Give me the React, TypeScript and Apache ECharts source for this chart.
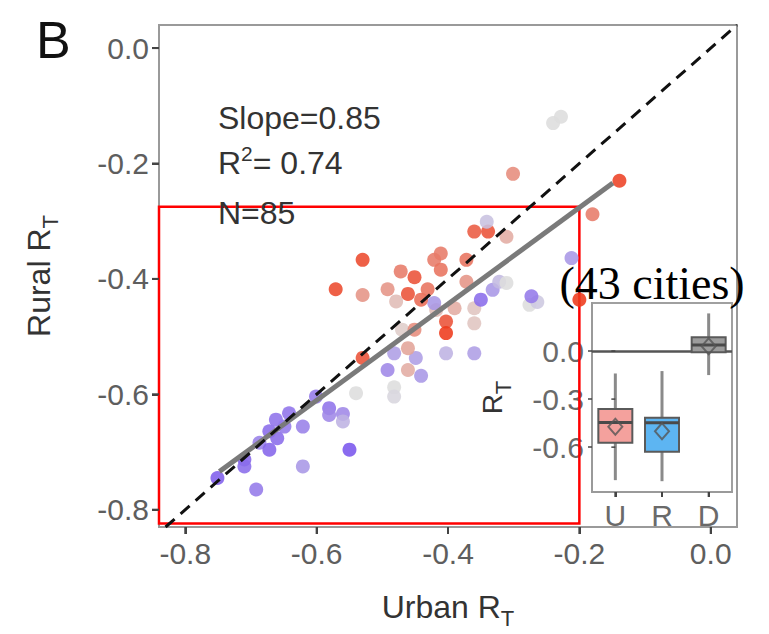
import React, { useEffect, useRef } from "react";
import * as echarts from "echarts";

// ---- main scatter data (Urban R_T, Rural R_T, colour score: -1 purple .. 0 grey .. +1 red)
const urbanRT = [
  -0.751, -0.71, -0.71, -0.692, -0.687, -0.672, -0.672, -0.66, -0.662, -0.649,
  -0.642, -0.621, -0.621, -0.601, -0.581, -0.581, -0.56, -0.56, -0.55, -0.54,
  -0.482, -0.482, -0.53, -0.492, -0.461, -0.441, -0.482, -0.449, -0.461, -0.47,
  -0.451, -0.403, -0.403, -0.403, -0.36, -0.36, -0.36, -0.39, -0.418, -0.421,
  -0.441, -0.479, -0.461, -0.431, -0.492, -0.451, -0.472, -0.53, -0.571, -0.53,
  -0.421, -0.411, -0.411, -0.372, -0.372, -0.36, -0.339, -0.311, -0.341, -0.35,
  -0.332, -0.322, -0.311, -0.276, -0.264, -0.273, -0.212, -0.2, -0.301, -0.139,
  -0.18, -0.24, -0.228,
];
const ruralRT = [
  -0.745, -0.713, -0.725, -0.765, -0.684, -0.696, -0.664, -0.676, -0.644, -0.656,
  -0.633, -0.656, -0.725, -0.604, -0.624, -0.636, -0.634, -0.647, -0.696, -0.598,
  -0.588, -0.604, -0.537, -0.558, -0.558, -0.568, -0.529, -0.537, -0.52, -0.488,
  -0.488, -0.474, -0.494, -0.529, -0.529, -0.477, -0.451, -0.451, -0.454, -0.442,
  -0.436, -0.439, -0.426, -0.418, -0.418, -0.397, -0.387, -0.428, -0.418, -0.367,
  -0.367, -0.356, -0.384, -0.367, -0.405, -0.318, -0.318, -0.327, -0.301, -0.436,
  -0.419, -0.405, -0.407, -0.445, -0.44, -0.43, -0.364, -0.436, -0.218, -0.23,
  -0.288, -0.13, -0.119,
];
const colorScore = [
  -0.9, -0.85, -0.8, -0.7, -0.65, -0.85, -0.8, -0.8, -0.75, -0.7,
  -0.75, -0.65, -0.5, -0.7, -0.75, -0.6, -0.6, -0.3, -0.95, 0,
  0, -0.05, 0.85, -0.6, 0.3, -0.5, -0.45, -0.45, 0.35, 0.1,
  0.5, 0.85, 1.0, -0.3, -0.45, 0.15, 0.15, 0.3, 0.2, -0.5,
  0.7, 0.2, 0.85, 0.65, 0.45, 0.85, 0.6, 0.45, 0.9, 0.9,
  0.6, 0.6, 0.65, 0.65, 0.45, 0.8, 0.85, 0.3, -0.2, -0.8,
  -0.5, -0.25, 0, 0, -0.15, -0.7, -0.5, 1.0, 0.5, 0.95,
  0.6, 0, 0,
];

// fitted regression line end points and 1:1 reference line
const fitX = [-0.748, -0.149];
const fitY = [-0.734, -0.234];
const oneToOne = [-0.83, 0.04];

// axis ranges and ticks
const xRange = [-0.84, 0.04];
const yRange = [-0.83, 0.04];
const xTicks = [-0.8, -0.6, -0.4, -0.2, 0.0];
const yTicks = [-0.8, -0.6, -0.4, -0.2, 0.0];

// inset box plot (min, Q1, median, Q3, max) and means
const insetCats = ["U", "R", "D"];
const insetBox = [
  [-0.806, -0.573, -0.446, -0.3625, -0.14],
  [-0.8125, -0.629, -0.448, -0.417, -0.125],
  [-0.15, -0.008, 0.0375, 0.0855, 0.235],
];
const insetMean = [-0.473, -0.5, 0.03];
const insetFill = ["#F4A19D", "#5DB5F2", "#9C9C9C"];
const insetRange = [-0.88, 0.3];
const insetTicks = [-0.6, -0.3, 0.0];

// annotation texts
const statLines = ["Slope=0.85", "R{sup|2}= 0.74", "N=85"];
const panelLetter = "B";
const citiesNote = "(43 cities)";

const SANS = "'Liberation Sans', Arial, Helvetica, sans-serif";
const SERIF = "'Liberation Serif', 'Times New Roman', serif";

export default function App() {
  const ref = useRef<HTMLDivElement>(null);
  useEffect(() => {
    document.body.style.margin = "0";
    const chart = echarts.init(ref.current!, undefined, { renderer: "svg" });
    const fmt = (v: number) => v.toFixed(1);
    const subRich = {
      sub: { fontSize: 22, padding: [22, 0, 0, 0], fontFamily: SANS, color: "#333" },
    };
    const tickLabel = { fontSize: 30, color: "#5e5e5e", fontFamily: SANS };
    const frameLine = { show: true, onZero: false, lineStyle: { color: "#9a9a9a", width: 2 } };
    const mainTick = (vals: number[], len: number) => ({
      show: true, inside: false, length: len, customValues: vals, lineStyle: { color: "#444", width: 2 },
    });
    const textGraphics: any[] = [
      {
        type: "text", left: 36, top: 14, z: 10,
        style: { text: panelLetter, fontSize: 52, fontFamily: SANS, fill: "#111" },
      },
      {
        type: "text", x: 218, y: 118, z: 10,
        style: { text: statLines[0], fontSize: 32, fontFamily: SANS, fill: "#333", verticalAlign: "middle" },
      },
      {
        type: "text", x: 218, y: 163, z: 10,
        style: {
          text: statLines[1], fontSize: 32, fontFamily: SANS, fill: "#333", verticalAlign: "middle",
          rich: {
            sup: { fontSize: 21, fontFamily: SANS, fill: "#333", padding: [0, 0, 20, 0] },
          },
        },
      },
      {
        type: "text", x: 218, y: 213, z: 10,
        style: { text: statLines[2], fontSize: 32, fontFamily: SANS, fill: "#333", verticalAlign: "middle" },
      },
      {
        type: "text", x: 652, y: 283, z: 20,
        style: { text: citiesNote, fontSize: 46, fontFamily: SERIF, fill: "#000", align: "center", verticalAlign: "middle" },
      },
    ];
    const option: any = {
      animation: false,
      backgroundColor: "#fff",
      visualMap: [
        {
          type: "continuous",
          show: false,
          seriesIndex: 0,
          dimension: 2,
          min: -1,
          max: 1,
          inRange: { color: ["#7550EE", "#DDDDDD", "#EE3A1B"] },
        },
      ],
      grid: [
        {
          left: 159, top: 25, width: 578, height: 502,
          show: true, borderColor: "#9a9a9a", borderWidth: 2, backgroundColor: "transparent",
        },
        {
          left: 592, top: 303, width: 140, height: 189,
          show: true, borderColor: "#a0a0a0", borderWidth: 2, backgroundColor: "#fff",
        },
      ],
      xAxis: [
        {
          type: "value", gridIndex: 0, min: xRange[0], max: xRange[1], position: "bottom",
          axisLine: frameLine,
          splitLine: { show: false },
          axisTick: mainTick(xTicks, 7),
          axisLabel: { customValues: xTicks, formatter: fmt, margin: 11, ...tickLabel },
          name: "Urban R{sub|T}",
          nameLocation: "middle",
          nameGap: 58,
          nameTextStyle: { fontSize: 32, color: "#333", fontFamily: SANS, rich: subRich },
        },
        {
          type: "category", gridIndex: 1, data: insetCats, position: "bottom",
          axisLine: frameLine,
          axisTick: { show: true, alignWithLabel: true, length: 5, lineStyle: { color: "#444", width: 2 } },
          axisLabel: { margin: 8, ...tickLabel, color: "#6a6a6a" },
        },
      ],
      yAxis: [
        {
          type: "value", gridIndex: 0, min: yRange[0], max: yRange[1], position: "left",
          axisLine: frameLine,
          splitLine: { show: false },
          axisTick: mainTick(yTicks, 7),
          axisLabel: { customValues: yTicks, formatter: fmt, margin: 10, ...tickLabel },
          name: "Rural R{sub|T}",
          nameLocation: "middle",
          nameGap: 98,
          nameTextStyle: { fontSize: 32, color: "#333", fontFamily: SANS, rich: subRich },
        },
        {
          type: "value", gridIndex: 1, min: insetRange[0], max: insetRange[1], position: "left",
          axisLine: frameLine,
          splitLine: { show: false },
          axisTick: { show: true, length: 4, customValues: insetTicks, lineStyle: { color: "#444", width: 1.5 } },
          axisLabel: { customValues: insetTicks, formatter: fmt, margin: 8, ...tickLabel, color: "#6a6a6a" },
          name: "R{sub|T}",
          nameLocation: "middle",
          nameGap: 78,
          nameTextStyle: { fontSize: 28, color: "#333", fontFamily: SANS, rich: subRich },
        },
      ],
      series: [
        {
          type: "scatter",
          xAxisIndex: 0, yAxisIndex: 0,
          symbolSize: 14,
          itemStyle: { opacity: 0.88 },
          data: urbanRT.map((x, i) => [x, ruralRT[i], colorScore[i]]),
          z: 2,
          markArea: {
            silent: true,
            itemStyle: { color: "rgba(0,0,0,0)", borderColor: "#ff0000", borderWidth: 2.5 },
            data: [[{ coord: [-0.8415, -0.824] }, { coord: [-0.2, -0.275] }]],
          },
        },
        {
          type: "line",
          xAxisIndex: 0, yAxisIndex: 0,
          symbol: "none",
          data: fitX.map((x, i) => [x, fitY[i]]),
          lineStyle: { color: "#7a7a7a", width: 5 },
          z: 3,
        },
        {
          type: "line",
          xAxisIndex: 0, yAxisIndex: 0,
          symbol: "none",
          data: oneToOne.map((v) => [v, v]),
          lineStyle: { color: "#111", width: 3, type: [12, 8] },
          z: 4,
        },
        {
          type: "custom",
          xAxisIndex: 1, yAxisIndex: 1,
          data: insetBox.map((b, i) => [i, ...b]),
          encode: { x: 0, y: [1, 2, 3, 4, 5] },
          renderItem: (params: any, api: any) => {
            const i = api.value(0);
            const idx = params.dataIndex;
            const pMin = api.coord([i, api.value(1)]);
            const pQ1 = api.coord([i, api.value(2)]);
            const pMed = api.coord([i, api.value(3)]);
            const pQ3 = api.coord([i, api.value(4)]);
            const pMax = api.coord([i, api.value(5)]);
            const cx = pMin[0];
            const half = 17;
            return {
              type: "group",
              children: [
                { type: "line", shape: { x1: cx, y1: pMin[1], x2: cx, y2: pMax[1] }, style: { stroke: "#8a8a8a", lineWidth: 3 } },
                {
                  type: "rect",
                  shape: { x: cx - half, y: pQ3[1], width: half * 2, height: pQ1[1] - pQ3[1] },
                  style: { fill: insetFill[idx], stroke: "#5a5a5a", lineWidth: 2 },
                },
                { type: "line", shape: { x1: cx - half, y1: pMed[1], x2: cx + half, y2: pMed[1] }, style: { stroke: "#4a4a4a", lineWidth: 3 } },
              ],
            };
          },
          markLine: {
            silent: true,
            symbol: ["none", "none"],
            label: { show: false },
            lineStyle: { color: "#555", width: 2.5, type: "solid" },
            data: [{ yAxis: 0 }],
          },
          z: 5,
        },
        {
          type: "scatter",
          xAxisIndex: 1, yAxisIndex: 1,
          symbol: "diamond",
          symbolSize: [14, 16],
          data: insetCats.map((c, i) => [c, insetMean[i]]),
          itemStyle: { color: "rgba(0,0,0,0)", borderColor: "#555", borderWidth: 2 },
          z: 6,
        },
      ],
      graphic: textGraphics,
    };
    chart.setOption(option);

    // tick marks as small filled rects, positioned through the axes' own scales
    const tickEls: any[] = [];
    const tickRect = (x: number, y: number, w: number, h: number) =>
      tickEls.push({
        type: "rect", z: 50, zlevel: 1, silent: true,
        shape: { x, y, width: w, height: h },
        style: { fill: "#444" },
      });
    try {
      xTicks.forEach((v) => {
        const p = chart.convertToPixel({ xAxisIndex: 0, yAxisIndex: 0 } as any, [v, yRange[0]]) as number[];
        tickRect(p[0] - 1, p[1], 2, 7);
      });
      yTicks.forEach((v) => {
        const p = chart.convertToPixel({ xAxisIndex: 0, yAxisIndex: 0 } as any, [xRange[0], v]) as number[];
        tickRect(p[0] - 7, p[1] - 1, 7, 2);
      });
      insetCats.forEach((_, i) => {
        const p = chart.convertToPixel({ xAxisIndex: 1, yAxisIndex: 1 } as any, [i, insetRange[0]]) as number[];
        tickRect(p[0] - 1, p[1], 2, 5);
      });
      insetTicks.forEach((v) => {
        const p = chart.convertToPixel({ xAxisIndex: 1, yAxisIndex: 1 } as any, [0, v]) as number[];
        const q = chart.convertToPixel({ xAxisIndex: 1, yAxisIndex: 1 } as any, [-0.5, v]) as number[];
        tickRect(Math.min(p[0], q[0]) - 4, p[1] - 0.75, 4, 1.5);
      });
    } catch (e) {
      // ignore
    }
    if (tickEls.length) chart.setOption({ graphic: [...textGraphics, ...tickEls] });
    return () => chart.dispose();
  }, []);
  return <div ref={ref} style={{ width: 769, height: 634 }} />;
}
